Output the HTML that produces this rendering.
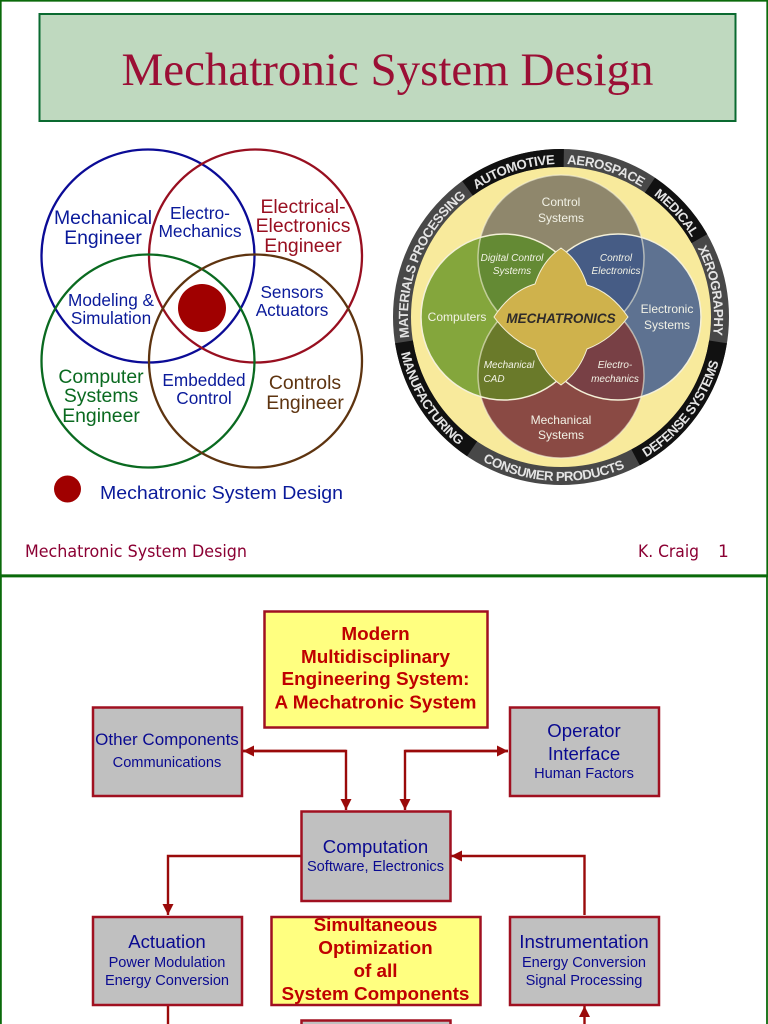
<!DOCTYPE html>
<html><head><meta charset="utf-8"><style>
html,body{margin:0;padding:0;background:#fff}
svg{display:block}
text{font-family:"Liberation Sans",sans-serif}
</style></head><body>
<svg width="768" height="1024" viewBox="0 0 768 1024" xmlns="http://www.w3.org/2000/svg">
<defs>
<marker id="a" markerWidth="13" markerHeight="13" refX="11" refY="5.5" orient="auto" markerUnits="userSpaceOnUse"><path d="M0,0L11,5.5L0,11Z" fill="#9a0a0a"/></marker>
<clipPath id="cT"><circle cx="561" cy="258" r="83"/></clipPath>
<clipPath id="cB"><circle cx="561" cy="375" r="83"/></clipPath>
<path id="cw" d="M561,470A153,153 0 1 1 561,164A153,153 0 1 1 561,470"/>
<path id="ccw" d="M561,153A164,164 0 1 0 561,481A164,164 0 1 0 561,153"/>
</defs>
<rect width="768" height="1024" fill="#fff"/>
<rect x="0.75" y="0.75" width="766.5" height="574.5" fill="none" stroke="#0a6a0a" stroke-width="1.8"/>
<path d="M0.9,577V1024M767,577V1024M0,576.5H768" fill="none" stroke="#0a6a0a" stroke-width="1.8"/>
<rect x="39.5" y="14" width="696" height="107" fill="#bfd9bf" stroke="#0a6a30" stroke-width="2"/>
<text x="387.5" y="85" text-anchor="middle" style="font-family:'Liberation Serif',serif" font-size="46.5" fill="#9b0f35" textLength="532" lengthAdjust="spacingAndGlyphs">Mechatronic System Design</text>

<g fill="none" stroke-width="2.3">
<circle cx="148" cy="256" r="106.5" stroke="#0b0b96"/>
<circle cx="255.5" cy="256" r="106.5" stroke="#980f20"/>
<circle cx="148" cy="361" r="106.5" stroke="#0a6a20"/>
<circle cx="255.5" cy="361" r="106.5" stroke="#5e3410"/>
</g>
<circle cx="202" cy="308" r="24" fill="#a00000"/>
<circle cx="67.5" cy="489" r="13.5" fill="#a00000"/>
<g font-size="19.4" text-anchor="middle">
<g fill="#0a1a9a">
<text x="103" y="224">Mechanical</text><text x="103" y="244">Engineer</text>
<text x="200" y="219" font-size="17.4">Electro-</text><text x="200" y="237" font-size="17.4">Mechanics</text>
<text x="111" y="306" font-size="17.2">Modeling &amp;</text><text x="111" y="324" font-size="17.2">Simulation</text>
<text x="292" y="298" font-size="17.2">Sensors</text><text x="292" y="316" font-size="17.2">Actuators</text>
<text x="204" y="386" font-size="17.2">Embedded</text><text x="204" y="404" font-size="17.2">Control</text>
</g>
<g fill="#980f20"><text x="303" y="213">Electrical-</text><text x="303" y="232">Electronics</text><text x="303" y="252">Engineer</text></g>
<g fill="#0a6a20"><text x="101" y="383">Computer</text><text x="101" y="402">Systems</text><text x="101" y="422">Engineer</text></g>
<g fill="#5e3410"><text x="305" y="389">Controls</text><text x="305" y="409">Engineer</text></g>
<text x="100" y="499" text-anchor="start" fill="#0a1a9a" font-size="18.5" textLength="243" lengthAdjust="spacingAndGlyphs">Mechatronic System Design</text>
</g>
<g fill="#8b0033" font-size="17">
<text x="25" y="557" style="font-family:'DejaVu Sans',sans-serif" textLength="222" lengthAdjust="spacingAndGlyphs">Mechatronic System Design</text>
<text x="638" y="557" style="font-family:'DejaVu Sans',sans-serif" textLength="61" lengthAdjust="spacingAndGlyphs">K. Craig</text>
<text x="718" y="557" style="font-family:'DejaVu Sans',sans-serif">1</text>
</g>

<circle cx="561" cy="317" r="151" fill="#f8ea9c"/>
<circle cx="561" cy="317" r="159" fill="none" stroke="#484848" stroke-width="18" pathLength="360" transform="rotate(-90 561 317)"/>
<g fill="none" stroke="#111" stroke-width="18">
<circle cx="561" cy="317" r="159" pathLength="360" stroke-dasharray="37 400" transform="rotate(234 561 317)"/>
<circle cx="561" cy="317" r="159" pathLength="360" stroke-dasharray="26.5 400" transform="rotate(-56 561 317)"/>
<circle cx="561" cy="317" r="159" pathLength="360" stroke-dasharray="53 400" transform="rotate(9 561 317)"/>
<circle cx="561" cy="317" r="159" pathLength="360" stroke-dasharray="47 400" transform="rotate(124 561 317)"/>
</g>
<g font-size="13.2" font-weight="bold" fill="#e4e4e4" letter-spacing="-0.45">
<text text-anchor="middle"><textPath href="#cw" startOffset="45%">AUTOMOTIVE</textPath></text>
<text text-anchor="middle"><textPath href="#cw" startOffset="54.7%">AEROSPACE</textPath></text>
<text text-anchor="middle"><textPath href="#cw" startOffset="63.3%">MEDICAL</textPath></text>
<text text-anchor="middle"><textPath href="#cw" startOffset="72.2%">XEROGRAPHY</textPath></text>
<text text-anchor="middle"><textPath href="#cw" startOffset="31.1%">MATERIALS PROCESSING</textPath></text>
<text text-anchor="middle"><textPath href="#ccw" startOffset="49.2%">CONSUMER PRODUCTS</textPath></text>
<text text-anchor="middle"><textPath href="#ccw" startOffset="64.6%">DEFENSE SYSTEMS</textPath></text>
<text text-anchor="middle"><textPath href="#ccw" startOffset="33.9%">MANUFACTURING</textPath></text>
</g>
<circle cx="561" cy="258" r="83" fill="#8f876c"/>
<circle cx="561" cy="375" r="83" fill="#8a4a44"/>
<circle cx="504" cy="317" r="83" fill="#84a63c"/>
<circle cx="618" cy="317" r="83" fill="#5e7291"/>
<g clip-path="url(#cT)"><circle cx="504" cy="317" r="83" fill="#648a34"/><circle cx="618" cy="317" r="83" fill="#465c85"/></g>
<g clip-path="url(#cB)"><circle cx="504" cy="317" r="83" fill="#6a7a2a"/><circle cx="618" cy="317" r="83" fill="#784045"/></g>
<g fill="none" stroke="#f4f0d8" stroke-width="1.5">
<circle cx="561" cy="258" r="83" stroke-opacity=".6"/><circle cx="561" cy="375" r="83" stroke-opacity=".6"/>
<circle cx="504" cy="317" r="83"/><circle cx="618" cy="317" r="83"/>
</g>
<path d="M561,248Q543,260 535,284Q511,291 494,317Q511,340 535,350Q543,372 561,385Q579,372 587,349Q611,340 628,317Q611,292 587,285Q579,260 561,248Z" fill="#cfb24c" stroke="#f4f0d8" stroke-width="1"/>
<g text-anchor="middle" font-size="12" fill="#f2f2e6">
<text x="561" y="206">Control</text><text x="561" y="222">Systems</text>
<text x="457" y="321">Computers</text>
<text x="667" y="313">Electronic</text><text x="667" y="329">Systems</text>
<text x="561" y="424">Mechanical</text><text x="561" y="439">Systems</text>
<g font-size="10" font-style="italic">
<text x="512" y="261">Digital Control</text><text x="512" y="274">Systems</text>
<text x="616" y="261">Control</text><text x="616" y="274">Electronics</text>
<text x="509" y="368">Mechanical</text><text x="494" y="382">CAD</text>
<text x="615" y="368">Electro-</text><text x="615" y="382">mechanics</text>
</g>
<text x="561" y="323" font-size="13.5" font-weight="bold" font-style="italic" fill="#2e2a2a">MECHATRONICS</text>
</g>

<g fill="none" stroke="#9a0a0a" stroke-width="2.4">
<path d="M243,751H346V810" marker-end="url(#a)"/>
<path d="M346,751H243" marker-end="url(#a)"/>
<path d="M508,751H405V810" marker-end="url(#a)"/>
<path d="M405,751H508" marker-end="url(#a)"/>
<path d="M301,856H168V915" marker-end="url(#a)"/>
<path d="M584.5,915V856H451" marker-end="url(#a)"/>
<path d="M168,1005V1024"/>
<path d="M584.5,1024V1006" marker-end="url(#a)"/>
</g>
<g stroke="#a01020" stroke-width="2.5">
<rect x="264.5" y="611.5" width="223" height="116" fill="#ffff80"/>
<rect x="271.5" y="917" width="209" height="88" fill="#ffff80"/>
<g fill="#c0c0c0">
<rect x="93" y="707.5" width="149" height="88.5"/>
<rect x="510" y="707.5" width="149" height="88.5"/>
<rect x="301.5" y="811.5" width="149" height="89.5"/>
<rect x="93" y="917" width="149" height="88"/>
<rect x="510" y="917" width="149" height="88"/>
<rect x="301.5" y="1020.5" width="149" height="20"/>
</g>
</g>
<g text-anchor="middle" font-size="18.9" font-weight="bold" fill="#c00000">
<text x="375.5" y="640">Modern</text><text x="375.5" y="663">Multidisciplinary</text><text x="375.5" y="685">Engineering System:</text><text x="375.5" y="708.5">A Mechatronic System</text>
<text x="375.5" y="931">Simultaneous</text><text x="375.5" y="954">Optimization</text><text x="375.5" y="977">of all</text><text x="375.5" y="1000">System Components</text>
</g>
<g text-anchor="middle" fill="#0a0a90" font-size="14.6">
<text x="167" y="745" font-size="17">Other Components</text><text x="167" y="767">Communications</text>
<text x="584" y="737" font-size="18.6">Operator</text><text x="584" y="760" font-size="18.6">Interface</text><text x="584" y="778">Human Factors</text>
<text x="375.5" y="853" font-size="18.6">Computation</text><text x="375.5" y="871">Software, Electronics</text>
<text x="167" y="948" font-size="18.6">Actuation</text><text x="167" y="967">Power Modulation</text><text x="167" y="985">Energy Conversion</text>
<text x="584" y="948" font-size="18.8">Instrumentation</text><text x="584" y="967">Energy Conversion</text><text x="584" y="985">Signal Processing</text>
</g>
</svg>
</body></html>
